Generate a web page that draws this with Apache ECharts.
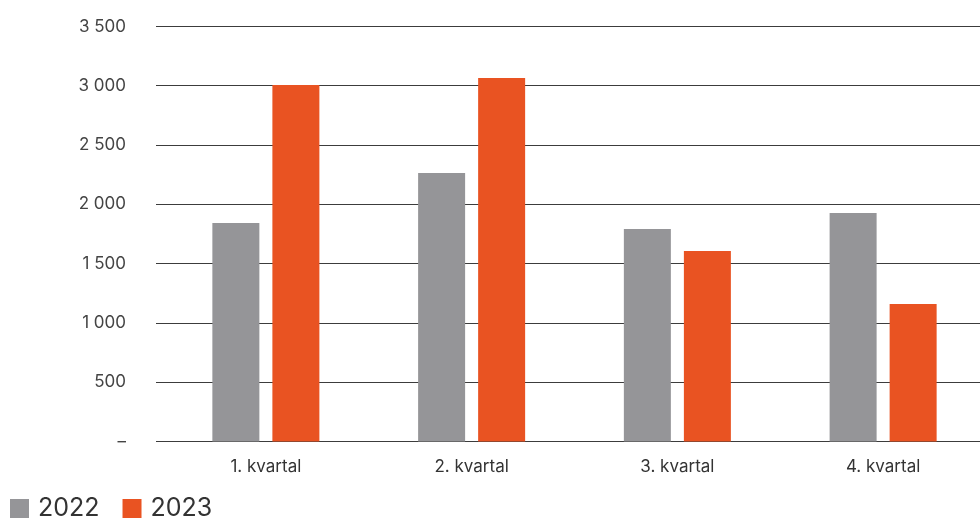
<!DOCTYPE html>
<html><head><meta charset="utf-8">
<script src="https://cdn.jsdelivr.net/npm/echarts@6/dist/echarts.min.js"></script>
<style>html,body{margin:0;padding:0;background:#fff;overflow:hidden}#c{width:986px;height:519px}</style>
</head><body><div id="c"></div>
<script>
const categories = ['1. kvartal', '2. kvartal', '3. kvartal', '4. kvartal'];
const seriesNames = ['2022', '2023'];
const values2022 = [1842, 2264, 1791, 1926];
const values2023 = [3006, 3065, 1606, 1158];
const yTicks = [0, 500, 1000, 1500, 2000, 2500, 3000, 3500];

const FONT = 'Inter';
const fmt = v => v === 0 ? '–' : String(v).replace(/\B(?=(\d{3})+(?!\d))/g, ' ');
const chart = echarts.init(document.getElementById('c'));
chart.setOption({
  animation: false,
  textStyle: { fontFamily: FONT },
  grid: [
    { left: 163, right: 0, top: 26.4, height: 415, containLabel: false },
    { left: 156, right: 6, top: 26.4, height: 415, containLabel: false }
  ],
  legend: {
    left: 5, top: 491, itemWidth: 19, itemHeight: 19, itemGap: 23, icon: 'rect',
    textStyle: { fontFamily: FONT, fontSize: 25, color: '#333', padding: [0, 0, 0, 4] },
    data: seriesNames
  },
  xAxis: [
    { type: 'category', gridIndex: 0, data: categories,
      axisLine: { show: false }, axisTick: { show: false },
      axisLabel: { fontSize: 17, color: '#333', margin: 17, fontFamily: FONT } },
    { type: 'value', gridIndex: 1, show: false, min: 0, max: 1 }
  ],
  yAxis: [
    { type: 'value', gridIndex: 0, min: yTicks[0], max: yTicks[yTicks.length - 1], interval: 500,
      show: false, splitLine: { show: false } },
    { type: 'value', gridIndex: 1, min: yTicks[0], max: yTicks[yTicks.length - 1], interval: 500,
      axisLine: { show: false }, axisTick: { show: false },
      axisLabel: { fontSize: 17, color: '#444', margin: 30, fontFamily: FONT, formatter: fmt },
      splitLine: { show: true, lineStyle: { color: '#3c3c3c', width: 1 } } }
  ],
  series: [
    { name: seriesNames[0], type: 'bar', xAxisIndex: 0, yAxisIndex: 0, data: values2022,
      barWidth: 47, barGap: '27.7%', itemStyle: { color: '#959598' } },
    { name: seriesNames[1], type: 'bar', xAxisIndex: 0, yAxisIndex: 0, data: values2023,
      barWidth: 47, barGap: '27.7%', itemStyle: { color: '#E95322' } },
    { type: 'line', xAxisIndex: 1, yAxisIndex: 1, data: [], silent: true }
  ]
});
</script></body></html>
